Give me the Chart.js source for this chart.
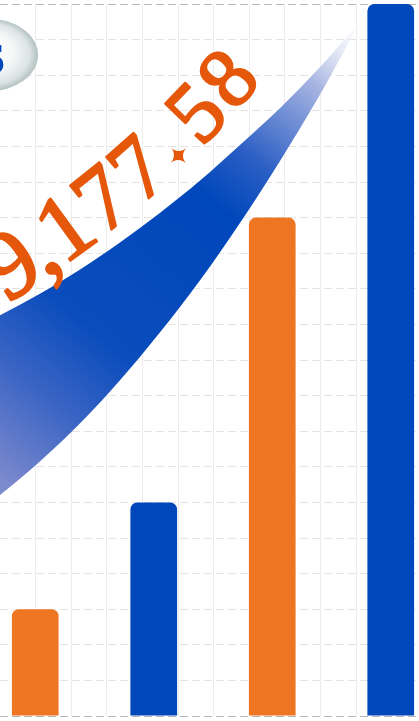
<!DOCTYPE html>
<html>
<head>
<meta charset="utf-8">
<script src="https://cdn.jsdelivr.net/npm/chart.js@4.4.1/dist/chart.umd.min.js"></script>
<style>
  html, body { margin: 0; padding: 0; overflow: hidden; background: #fff; width: 419px; height: 721px; }
  #wrap { position: absolute; left: -24px; top: 0; width: 474px; height: 721px; }
</style>
</head>
<body>
<div id="wrap"><canvas id="chart"></canvas></div>
<script>
// Bars
const categories = ["1", "2", "3", "4"];
const barValues = [3, 6, 14, 20];
const barColors = ["#EE7623", "#0047BB", "#EE7623", "#0047BB"];

// Value axis
const yMin = 0;
const yMax = 20;

// Background grid columns (one unit = one grid cell)
const gridXMin = -24 / 35.6;
const gridXMax = -24 / 35.6 + 474 / 35.6;
const gridColumns = [1, 2, 3, 4, 5, 6, 7, 8, 9, 10, 11, 12];

// Swoosh edges (x in grid cells, y in value units)
const swooshTopX = [-0.7, 0, 1.12, 2.25, 3.37, 4.49, 5.62, 6.74, 7.87, 8.99, 9.69, 10.11];
const swooshTopY = [10.93, 11.26, 11.86, 12.54, 13.3, 14.13, 15.04, 16.04, 17.08, 18.23, 19.02, 19.49];
const swooshBottomX = [-0.7, 0, 1.12, 2.25, 3.37, 4.49, 5.62, 6.74, 7.87, 8.99, 9.69, 10.11];
const swooshBottomY = [5.69, 6.21, 7.15, 8.22, 9.43, 10.77, 12.24, 13.85, 15.6, 17.46, 18.72, 19.49];

// Texts
const bigLabel = "9,177.58";
const bubbleLabel = "s";

function toPoints(xs, ys) {
  return xs.map((x, i) => ({ x: x, y: ys[i] }));
}

/**
 * Gradient running along the swoosh, light at the tail and fading at the tip
 */
function swooshGradient(context) {
  const chart = context.chart;
  if (!chart.chartArea) return "#0047BB";
  const xs = chart.scales.xg;
  const ys = chart.scales.y;
  const g = chart.ctx.createLinearGradient(
    xs.getPixelForValue(-0.28), ys.getPixelForValue(6.91),
    xs.getPixelForValue(10.11), ys.getPixelForValue(19.49)
  );
  g.addColorStop(0, "#7b89cd");
  g.addColorStop(0.16, "#3a64c4");
  g.addColorStop(0.3, "#0a4cbc");
  g.addColorStop(0.6, "#0047bb");
  g.addColorStop(0.7, "#2a5ec4");
  g.addColorStop(0.87, "#a8b5e2");
  g.addColorStop(1, "rgba(255,255,255,0.4)");
  return g;
}

/**
 * Big number written along a curve plus the bubble in the corner
 */
const decorPlugin = {
  id: "decor",
  afterDatasetsDraw(chart) {
    const ctx = chart.ctx;
    const ox = chart.scales.xg.getPixelForValue(0);
    ctx.save();
    ctx.translate(ox, 0);

    // text on an arc: anchored at the centre of the "1"
    const size = 94;
    const sizeFirst = 97, sizeLast = 85;
    const R = 994;
    const a1 = -36 * Math.PI / 180;
    const ax = 64, ay = 226;
    ctx.font = size + "px 'Liberation Serif'";
    const adv = [];
    for (const ch of bigLabel) {
      let w = ctx.measureText(ch).width;
      if (ch === ".") w = size * 0.35;
      if (ch === ",") w = size * 0.2;
      adv.push(w);
    }
    const anchor = bigLabel.indexOf("1");
    let sAnchor = 0;
    for (let i = 0; i < anchor; i++) sAnchor += adv[i];
    sAnchor += adv[anchor] / 2;

    ctx.fillStyle = "#E5570A";
    ctx.strokeStyle = "#E5570A";
    ctx.lineWidth = 2.2;
    ctx.lineJoin = "round";
    ctx.textAlign = "center";
    let s = 0;
    const n = bigLabel.length;
    for (let i = 0; i < n; i++) {
      const ch = bigLabel[i];
      const fs = sizeFirst + (sizeLast - sizeFirst) * i / (n - 1);
      const d = s + adv[i] / 2 - sAnchor;
      const a = a1 - d / R;
      const x = ax - R * (Math.sin(a) - Math.sin(a1));
      const y = ay + R * (Math.cos(a) - Math.cos(a1));
      ctx.save();
      ctx.translate(x, y);
      ctx.rotate(a);
      if (ch === ".") {
        ctx.font = Math.round(fs * 0.33) + "px 'DejaVu Sans'";
        ctx.textBaseline = "middle";
        ctx.fillText("\u2726", -2, fs * 0.25);
      } else {
        ctx.font = fs + "px 'Liberation Serif'";
        ctx.textBaseline = "alphabetic";
        ctx.fillText(ch, 0, fs * 0.34);
        ctx.strokeText(ch, 0, fs * 0.34);
      }
      ctx.restore();
      s += adv[i];
    }

    // bubble
    const cx = -12, cy = 55, rx = 50, ry = 36.5;
    ctx.save();
    ctx.translate(cx, cy);
    ctx.scale(1, ry / rx);
    const rg = ctx.createRadialGradient(-8, -10, 2, 0, 0, rx);
    rg.addColorStop(0, "#ffffff");
    rg.addColorStop(0.55, "#f6f8f8");
    rg.addColorStop(0.85, "#dbe3e3");
    rg.addColorStop(1, "#b3c1c1");
    ctx.fillStyle = rg;
    ctx.beginPath();
    ctx.arc(0, 0, rx, 0, Math.PI * 2);
    ctx.fill();
    ctx.restore();

    ctx.fillStyle = "#0047BB";
    ctx.font = "bold 54px 'DejaVu Sans'";
    ctx.textAlign = "right";
    ctx.textBaseline = "alphabetic";
    ctx.fillText(bubbleLabel, 6, 73);

    ctx.restore();
  }
};

const chart = new Chart(document.getElementById("chart"), {
  type: "bar",
  data: {
    labels: categories,
    datasets: [
      {
        type: "bar",
        data: barValues,
        backgroundColor: barColors,
        borderRadius: 7,
        borderSkipped: "start",
        grouped: false,
        categoryPercentage: 1,
        barPercentage: 0.394,
        xAxisID: "x",
        order: 1,
      },
      {
        type: "line",
        data: toPoints(swooshTopX, swooshTopY),
        xAxisID: "xg",
        borderWidth: 0,
        borderColor: "transparent",
        pointRadius: 0,
        cubicInterpolationMode: "monotone",
        fill: "+1",
        backgroundColor: swooshGradient,
        order: 2,
      },
      {
        type: "line",
        data: toPoints(swooshBottomX, swooshBottomY),
        xAxisID: "xg",
        borderWidth: 0,
        borderColor: "transparent",
        pointRadius: 0,
        cubicInterpolationMode: "monotone",
        fill: false,
        order: 3,
      },
    ],
  },
  options: {
    responsive: true,
    maintainAspectRatio: false,
    animation: false,
    layout: { padding: { top: 4, bottom: 5, left: 0, right: 0 } },
    plugins: {
      legend: { display: false },
      tooltip: { enabled: false },
    },
    scales: {
      x: { type: "category", display: false },
      xg: {
        type: "linear",
        position: "bottom",
        offset: false,
        bounds: "data",
        min: gridXMin,
        max: gridXMax,
        afterBuildTicks: (scale) => {
          scale.min = gridXMin;
          scale.max = gridXMax;
          scale.ticks = gridColumns.map((v) => ({ value: v }));
        },
        ticks: { display: false },
        grid: { drawTicks: false, offset: false, color: "#ececec" },
        border: { display: false },
      },
      y: {
        type: "linear",
        min: yMin,
        max: yMax,
        ticks: { display: false, stepSize: 1 },
        grid: {
          drawTicks: false,
          color: (c) =>
            c.tick && (c.tick.value === yMin || c.tick.value === yMax) ? "#b8b8b8" : "#e4e4e4",
        },
        border: { display: false, dash: [8, 4] },
      },
    },
  },
  plugins: [decorPlugin],
});
</script>
</body>
</html>
